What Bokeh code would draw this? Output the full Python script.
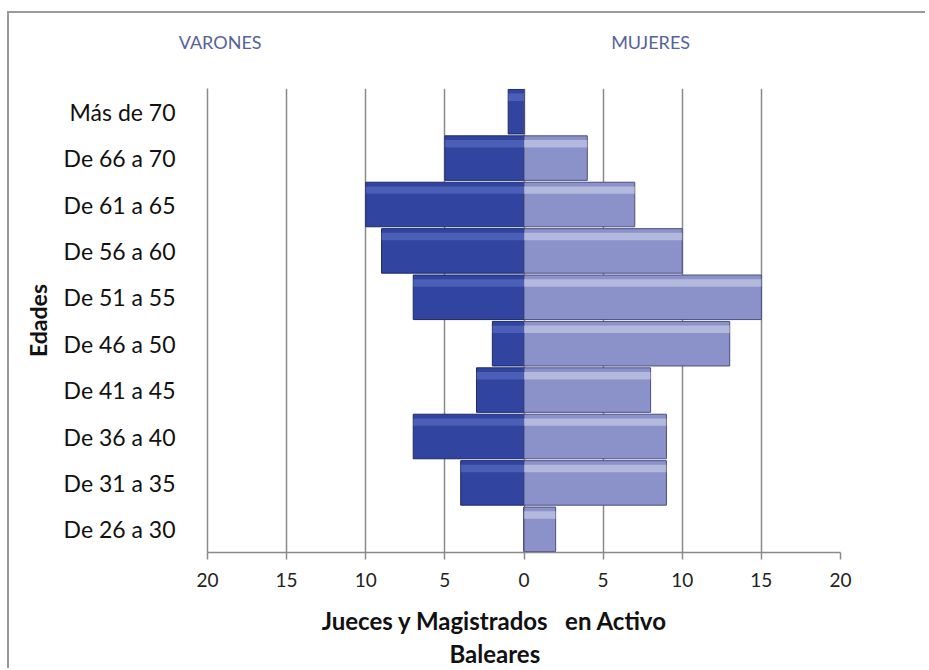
from bokeh.plotting import figure
from bokeh.models import ColumnDataSource, FactorRange, Range1d, FixedTicker, LinearAxis
from bokeh.transform import dodge
from bokeh.embed import file_html
from bokeh.resources import INLINE

# Data (top to bottom as in the chart)
categories = ["Más de 70", "De 66 a 70", "De 61 a 65", "De 56 a 60", "De 51 a 55",
              "De 46 a 50", "De 41 a 45", "De 36 a 40", "De 31 a 35", "De 26 a 30"]
varones = [1, 5, 10, 9, 7, 2, 3, 7, 4, 0]
mujeres = [0, 4, 7, 10, 15, 13, 8, 9, 9, 2]
tick_values = [-20, -15, -10, -5, 0, 5, 10, 15, 20]
series_names = ["VARONES", "MUJERES"]
series_label_pos = [-19.2, 8.0]

src = ColumnDataSource(dict(
    cat=categories,
    vl=[-v for v in varones],
    vr=[0] * len(varones),
    ml=[0] * len(mujeres),
    mr=mujeres,
))

FONT = "Lato"
NB = "\u00a0" * 10
p = figure(width=918, height=657, output_backend="svg", toolbar_location=None,
           y_range=FactorRange(factors=list(reversed(categories)), range_padding=0),
           x_range=Range1d(-20, 20),
           min_border_left=198, min_border_top=75, min_border_right=87, min_border_bottom=117)
p.outline_line_color = None
p.background_fill_color = "white"
p.border_fill_color = "white"
p.styles = {"margin-left": "7px", "margin-top": "11px",
            "border-left": "2px solid #9a9a9a", "border-top": "2px solid #9a9a9a",
            "border-right": "none", "border-bottom": "none"}

# bars
p.hbar(y="cat", left="vl", right="vr", height=0.96, source=src,
       fill_color="#3145a0", line_color="#1d2a66", line_width=1)
p.hbar(y="cat", left="ml", right="mr", height=0.96, source=src,
       fill_color="#8b91c9", line_color="#4b4f80", line_width=1)
# glossy highlight strips
p.hbar(y=dodge("cat", 0.31, range=p.y_range), left="vl", right="vr", height=0.16, source=src,
       fill_color="#6b7fcf", fill_alpha=0.45, line_color=None)
p.hbar(y=dodge("cat", 0.31, range=p.y_range), left="ml", right="mr", height=0.16, source=src,
       fill_color="#dcdff2", fill_alpha=0.5, line_color=None)

# grid
p.xgrid.ticker = FixedTicker(ticks=tick_values)
p.xgrid.grid_line_color = "#8a8a8a"
p.xgrid.grid_line_width = 1.5
p.ygrid.grid_line_color = None

# x axis
p.xaxis.ticker = FixedTicker(ticks=tick_values)
p.xaxis.major_label_overrides = {t: str(abs(t)) for t in tick_values}
p.xaxis.axis_line_color = "#8a8a8a"
p.xaxis.axis_line_width = 1.5
p.xaxis.major_tick_line_color = "#8a8a8a"
p.xaxis.major_tick_line_width = 1.5
p.xaxis.major_tick_out = 7
p.xaxis.major_tick_in = 0
p.xaxis.minor_tick_line_color = None
p.xaxis.major_label_text_font = FONT
p.xaxis.major_label_text_font_size = "19px"
p.xaxis.major_label_text_color = "#222222"
p.xaxis.major_label_standoff = 13
p.xaxis.axis_label = ("Jueces y Magistrados\u00a0\u00a0\u00a0en Activo" + NB + "\n"
                      "Baleares" + NB)
p.xaxis.axis_label_text_font = FONT
p.xaxis.axis_label_text_font_style = "bold"
p.xaxis.axis_label_text_font_size = "24px"
p.xaxis.axis_label_text_color = "#111111"
p.xaxis.axis_label_standoff = 16
p.xaxis.axis_label_text_line_height = 1.15

# y axis
p.yaxis.axis_line_color = "#8a8a8a"
p.yaxis.axis_line_width = 1.5
p.yaxis.major_tick_line_color = None
p.yaxis.minor_tick_line_color = None
p.yaxis.major_label_text_font = FONT
p.yaxis.major_label_text_font_size = "23px"
p.yaxis.major_label_text_color = "#111111"
p.yaxis.major_label_standoff = 26
p.yaxis.axis_label = "Edades"
p.yaxis.axis_label_text_font = FONT
p.yaxis.axis_label_text_font_style = "bold"
p.yaxis.axis_label_text_font_size = "23px"
p.yaxis.axis_label_text_color = "#111111"
p.yaxis.axis_label_standoff = 9

# series names above the plot, placed through the x scale
top_axis = LinearAxis(ticker=FixedTicker(ticks=series_label_pos),
                      major_label_overrides=dict(zip(series_label_pos, series_names)))
top_axis.axis_line_color = None
top_axis.major_tick_line_color = None
top_axis.minor_tick_line_color = None
top_axis.major_label_text_font = FONT
top_axis.major_label_text_font_size = "18px"
top_axis.major_label_text_color = "#56629a"
top_axis.major_label_standoff = 30
p.add_layout(top_axis, "above")

open("out.html", "w").write(file_html(p, INLINE))
